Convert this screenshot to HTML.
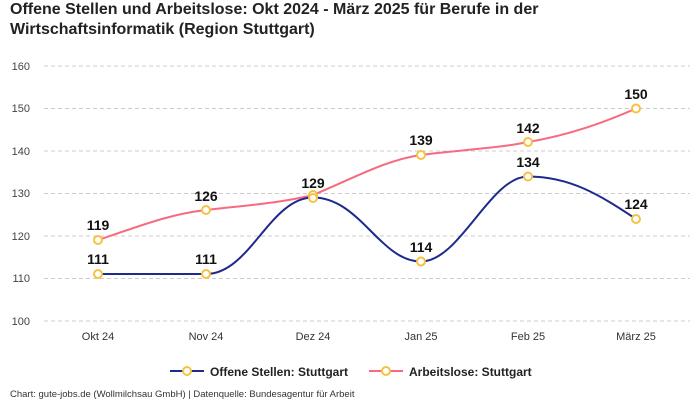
<!DOCTYPE html>
<html><head><meta charset="utf-8"><style>
body{margin:0;background:#fff;font-family:"Liberation Sans",sans-serif;}
</style></head><body>
<svg width="700" height="400" xmlns="http://www.w3.org/2000/svg" font-family="Liberation Sans, sans-serif">
<rect width="700" height="400" fill="#fff"/>
<text x="10" y="14" font-size="16" font-weight="bold" fill="#222">Offene Stellen und Arbeitslose: Okt 2024 - März 2025 für Berufe in der</text>
<text x="10" y="34" font-size="16" font-weight="bold" fill="#222">Wirtschaftsinformatik (Region Stuttgart)</text>
<g stroke="#ccc" stroke-dasharray="4,3" stroke-width="1">
<line x1="44" x2="690" y1="66" y2="66"/><line x1="44" x2="690" y1="108.5" y2="108.5"/>
<line x1="44" x2="690" y1="151" y2="151"/><line x1="44" x2="690" y1="193.5" y2="193.5"/>
<line x1="44" x2="690" y1="236" y2="236"/><line x1="44" x2="690" y1="278.5" y2="278.5"/>
<line x1="44" x2="690" y1="321" y2="321"/>
</g>
<g font-size="11" fill="#444" text-anchor="end">
<text x="30" y="70">160</text><text x="30" y="112">150</text><text x="30" y="155">140</text>
<text x="30" y="197">130</text><text x="30" y="240">120</text><text x="30" y="282">110</text><text x="30" y="325">100</text>
</g>
<g font-size="11" fill="#333" text-anchor="middle">
<text x="98" y="340">Okt 24</text><text x="206" y="340">Nov 24</text><text x="313" y="340">Dez 24</text>
<text x="421" y="340">Jan 25</text><text x="528" y="340">Feb 25</text><text x="636" y="340">März 25</text>
</g>
<path d="M98,240 C140,226 170,214 206,210 C250,205 280,203 313,195 C350,180 385,160 421,155 C460,150 500,148 528,142 C570,135 605,122 636,108.5" fill="none" stroke="#f76a80" stroke-width="2"/>
<path d="M98,274 L206,274 C250,274 270,197.5 313,197.5 C360,197.5 380,261.5 421,261.5 C460,261.5 490,176.5 528,176.5 C570,176.5 600,195 636,219" fill="none" stroke="#1e2a8c" stroke-width="2"/>
<g fill="#fff" stroke="#f5c242" stroke-width="2">
<circle cx="98" cy="240" r="4"/><circle cx="206" cy="210" r="4"/><circle cx="313" cy="195" r="4"/>
<circle cx="421" cy="155" r="4"/><circle cx="528" cy="142" r="4"/><circle cx="636" cy="108.5" r="4"/>
<circle cx="98" cy="274" r="4"/><circle cx="206" cy="274" r="4"/><circle cx="313" cy="198" r="4"/>
<circle cx="421" cy="261.5" r="4"/><circle cx="528" cy="176.5" r="4"/><circle cx="636" cy="219" r="4"/>
</g>
<g font-size="14" font-weight="bold" fill="#111" text-anchor="middle">
<text x="98" y="230">119</text><text x="206" y="201">126</text><text x="313" y="188">129</text>
<text x="421" y="145">139</text><text x="528" y="133">142</text><text x="636" y="99">150</text>
<text x="98" y="264">111</text><text x="206" y="264">111</text>
<text x="421" y="252">114</text><text x="528" y="167">134</text><text x="636" y="209">124</text>
</g>
<line x1="170" x2="204" y1="371" y2="371" stroke="#1e2a8c" stroke-width="2"/>
<circle cx="187" cy="371" r="4" fill="#fff" stroke="#f5c242" stroke-width="2"/>
<text x="210" y="376" font-size="12" font-weight="bold" fill="#222">Offene Stellen: Stuttgart</text>
<line x1="369" x2="403" y1="371" y2="371" stroke="#f76a80" stroke-width="2"/>
<circle cx="386" cy="371" r="4" fill="#fff" stroke="#f5c242" stroke-width="2"/>
<text x="409" y="376" font-size="12" font-weight="bold" fill="#222">Arbeitslose: Stuttgart</text>
<text x="10" y="397" font-size="9.5" fill="#333">Chart: gute-jobs.de (Wollmilchsau GmbH) | Datenquelle: Bundesagentur für Arbeit</text>
</svg>
</body></html>
